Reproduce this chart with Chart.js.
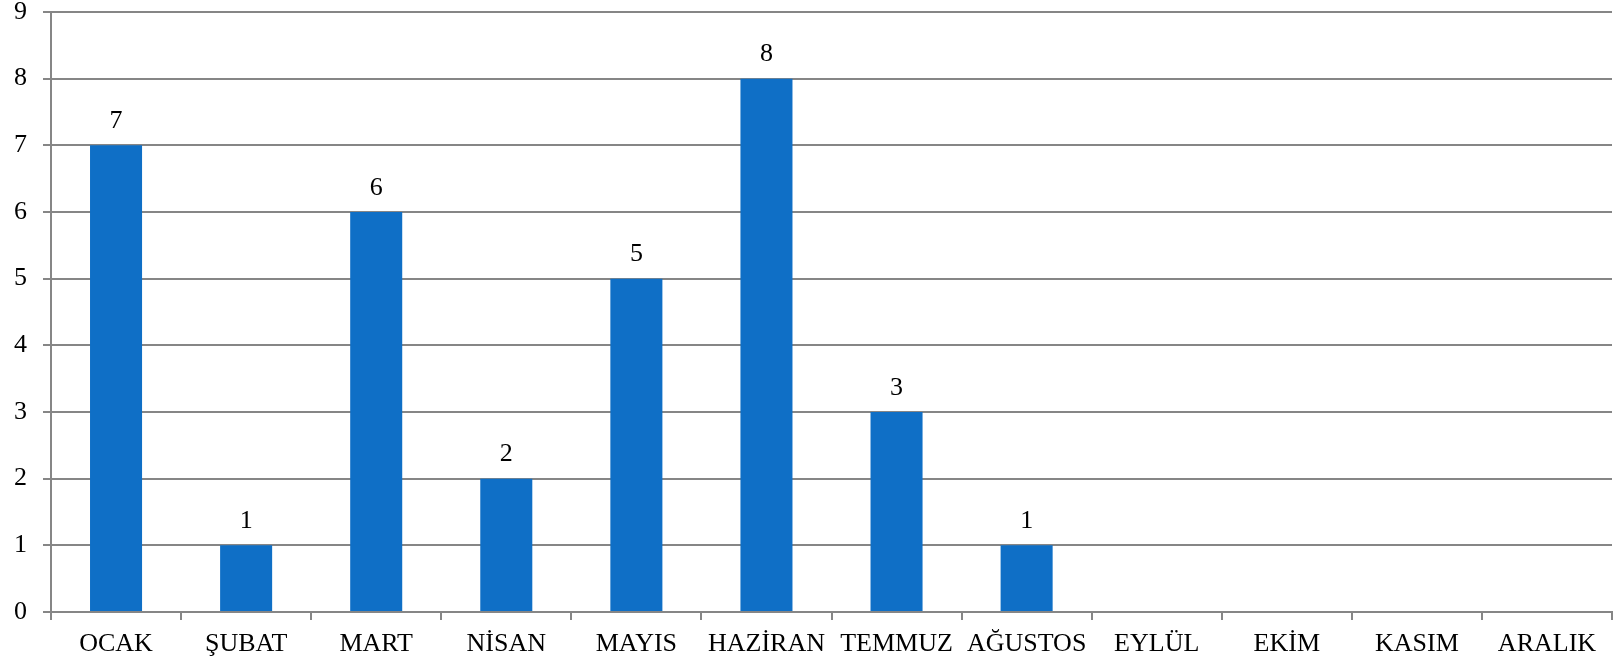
<!DOCTYPE html>
<html>
<head>
<meta charset="utf-8">
<script src="https://cdn.jsdelivr.net/npm/chart.js@4.4.1/dist/chart.umd.min.js"></script>
<style>
  html, body { margin: 0; padding: 0; background: #fff; }
  #wrap { width: 1614px; height: 664px; }
</style>
</head>
<body>
<div id="wrap"><canvas id="chart"></canvas></div>
<script>
// ----- Data -----
const months = ['OCAK','ŞUBAT','MART','NİSAN','MAYIS','HAZİRAN','TEMMUZ','AĞUSTOS','EYLÜL','EKİM','KASIM','ARALIK'];
const counts = [7, 1, 6, 2, 5, 8, 3, 1, 0, 0, 0, 0];
const yTicks = [0, 1, 2, 3, 4, 5, 6, 7, 8, 9];

const FONT = "'Liberation Serif', 'DejaVu Serif', serif";
const GRID = '#868686';

// labels above bars (no datalabels plugin offline)
const valueLabels = {
  id: 'valueLabels',
  afterDatasetsDraw(chart) {
    const { ctx } = chart;
    const meta = chart.getDatasetMeta(0);
    ctx.save();
    ctx.font = `26px ${FONT}`;
    ctx.fillStyle = '#000';
    ctx.textAlign = 'center';
    ctx.textBaseline = 'bottom';
    meta.data.forEach((bar, i) => {
      if (!counts[i]) return;
      ctx.fillText(String(counts[i]), bar.x, bar.y - 11);
    });
    ctx.restore();
  }
};

new Chart(document.getElementById('chart'), {
  type: 'bar',
  data: {
    labels: months,
    datasets: [{
      data: counts,
      backgroundColor: '#0F6FC6',
      categoryPercentage: 1,
      barPercentage: 0.4
    }]
  },
  options: {
    responsive: true,
    maintainAspectRatio: false,
    animation: false,
    layout: { padding: { top: 12, right: 2, left: 0, bottom: 0 } },
    plugins: { legend: { display: false }, tooltip: { enabled: false } },
    scales: {
      x: {
        grid: { offset: true, drawOnChartArea: false, drawTicks: true, tickLength: 8, color: GRID, lineWidth: 2 },
        border: { color: GRID, width: 2 },
        ticks: { color: '#000', font: { family: FONT, size: 26 }, maxRotation: 0, padding: 9 },
        afterFit: s => { s.height = 52; }
      },
      y: {
        min: 0, max: 9,
        afterBuildTicks: s => { s.ticks = yTicks.map(v => ({ value: v })); },
        grid: { color: GRID, lineWidth: 2, tickLength: 8 },
        border: { color: GRID, width: 2 },
        ticks: { color: '#000', font: { family: FONT, size: 26 }, padding: 16 },
        afterFit: s => { s.width = 51; s.paddingTop = 0; s.paddingBottom = 0; }
      }
    }
  },
  plugins: [valueLabels]
});
</script>
</body>
</html>
